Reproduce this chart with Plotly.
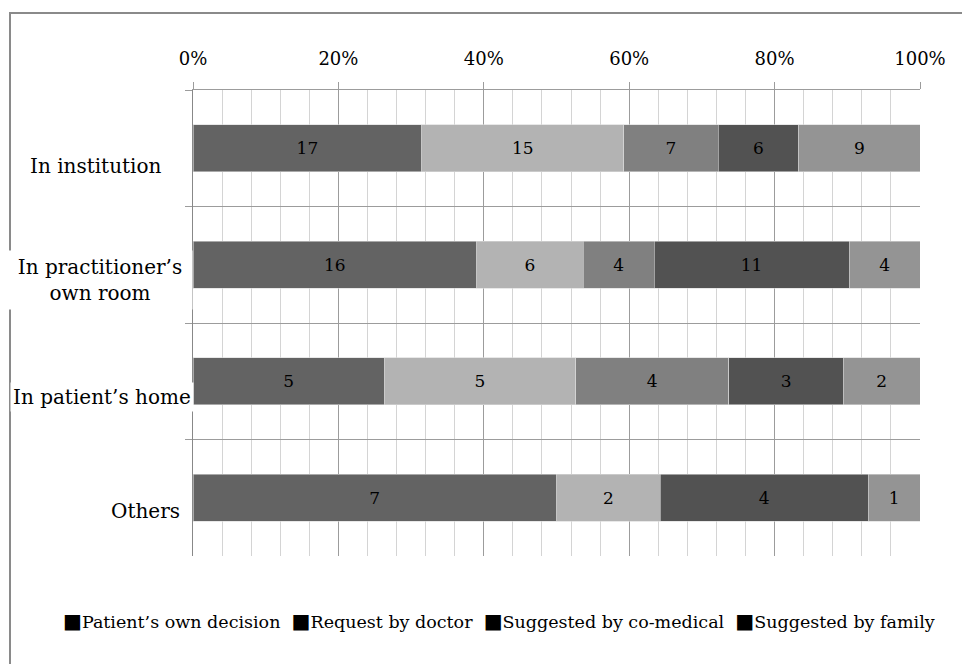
import plotly.graph_objects as go

# ---- data ----
categories = ["In institution", "In practitioner’s own room", "In patient’s home", "Others"]
category_labels = ["In institution", "In practitioner’s<br>own room", "In patient’s home", "Others"]
series_names = ["Patient’s own decision", "Request by doctor", "Suggested by co-medical",
                "Suggested by family", "Other"]
own_decision = [17, 16, 5, 7]
request_doctor = [15, 6, 5, 2]
co_medical = [7, 4, 4, 0]
family = [6, 11, 3, 4]
other = [9, 4, 2, 1]
legend_names = series_names[:4]
x_tick_values = [0, 20, 40, 60, 80, 100]
x_tick_labels = ["0%", "20%", "40%", "60%", "80%", "100%"]

# ---- styles ----
series_values = [own_decision, request_doctor, co_medical, family, other]
colors = ["#636363", "#b3b3b3", "#808080", "#525252", "#949494"]
FONT = "DejaVu Serif"

# plot area in pixels
L, R, T, B = 193, 920, 90, 556
W, H = 962, 664
def px_x(px):
    return (px - L) / (R - L)
def px_y(py):
    return (B - py) / (B - T)

fig = go.Figure()
for name, vals, col in zip(series_names, series_values, colors):
    fig.add_trace(go.Bar(
        y=categories, x=vals, orientation="h", name=name,
        marker=dict(color=col, line=dict(width=0.6, color="#d8d8d8")),
        text=[str(v) if v else "" for v in vals],
        textposition="inside", insidetextanchor="middle", textangle=0,
        textfont=dict(family=FONT, size=17, color="black"),
        showlegend=False,
    ))

# category labels (offset overlays with white boxes)
label_pos = [(96, -18, None), (100, -15, 176), (102, -16, None), (145, -13, None)]
annotations = []
for cat, lab, (cx, ys, wd) in zip(categories, category_labels, label_pos):
    ann = dict(
        x=px_x(cx), xref="paper", y=cat, yref="y", yshift=ys,
        text=lab, showarrow=False, xanchor="center", yanchor="middle",
        font=dict(family=FONT, size=20, color="black"),
        bgcolor="white", borderpad=2, align="center",
    )
    if wd:
        ann["width"] = wd
        ann["borderpad"] = 4
    annotations.append(ann)

legend_text = "\u00a0 ".join("<span style='font-size:20px'>■</span>" + n for n in legend_names)
annotations.append(dict(
    x=px_x(499), xref="paper", y=px_y(621), yref="paper",
    text=legend_text, showarrow=False, xanchor="center", yanchor="middle",
    font=dict(family=FONT, size=17.5, color="black"),
))

fig.update_layout(
    width=W, height=H,
    margin=dict(l=L, r=W - R, t=T, b=H - B),
    barmode="stack", barnorm="percent", bargap=0.6,
    paper_bgcolor="white", plot_bgcolor="white",
    annotations=annotations,
    shapes=[dict(type="rect", xref="paper", yref="paper",
                 x0=px_x(10), x1=px_x(1000), y0=px_y(700), y1=px_y(13),
                 line=dict(color="#8a8a8a", width=2), layer="below")],
    xaxis=dict(
        side="top", range=[0, 100], tickmode="array",
        tickvals=x_tick_values, ticktext=x_tick_labels,
        showgrid=True, gridcolor="#9c9c9c", gridwidth=1,
        minor=dict(dtick=4, showgrid=True, gridcolor="#d4d4d4", gridwidth=1, ticks=""),
        ticks="outside", ticklen=7, tickcolor="#9c9c9c",
        showline=True, linecolor="#9c9c9c", linewidth=1,
        tickfont=dict(family=FONT, size=18, color="black"),
        ticklabelstandoff=10, zeroline=False, fixedrange=True,
    ),
    yaxis=dict(
        categoryorder="array", categoryarray=categories, autorange="reversed",
        tickson="boundaries", ticks="outside", ticklen=7, tickcolor="#9c9c9c",
        showgrid=True, gridcolor="#9c9c9c", gridwidth=1,
        showticklabels=False, showline=True, linecolor="#888888", linewidth=1,
        zeroline=False, fixedrange=True,
    ),
    font=dict(family=FONT, color="black"),
)

fig.write_html(
    "out.html",
    config={"displayModeBar": False},
    post_script="document.body.style.margin='0';document.body.style.overflow='hidden';",
)
